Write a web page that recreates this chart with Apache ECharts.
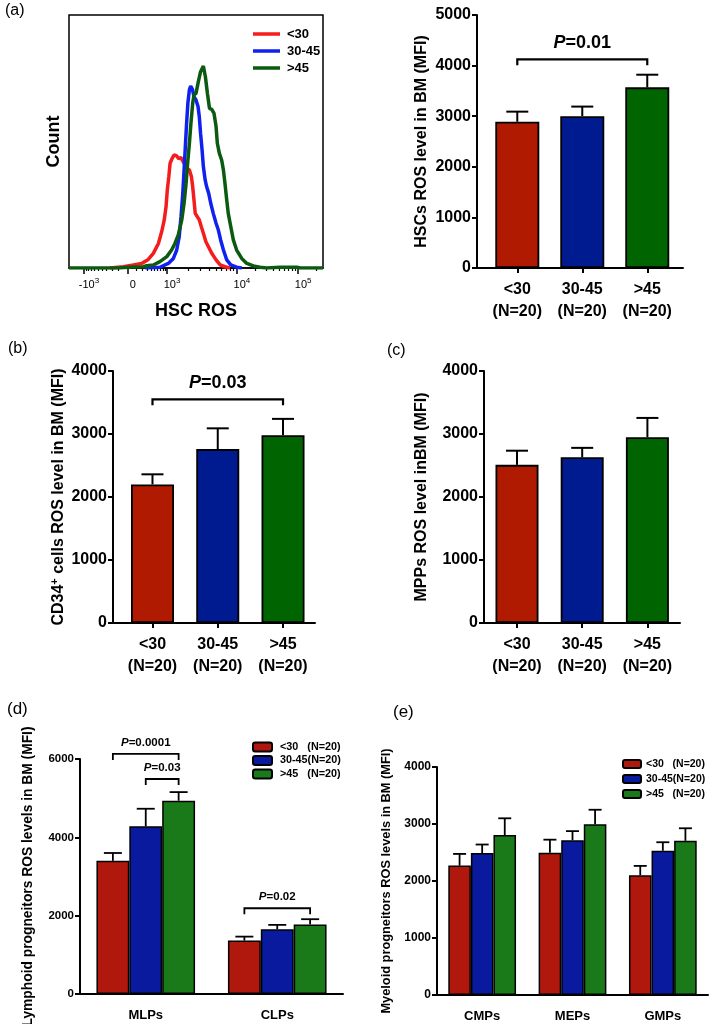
<!DOCTYPE html>
<html><head><meta charset="utf-8">
<script src="https://cdn.jsdelivr.net/npm/echarts@6/dist/echarts.min.js"></script>
<style>html,body{margin:0;padding:0;background:#fff}#c{width:709px;height:1024px}</style>
</head><body><div id="c"></div><script>
// ---------------- DATA ----------------
const ageGroups = ['<30', '30-45', '>45'];
const nLabel = '(N=20)';
const legendNames = ['<30   (N=20)', '30-45(N=20)', '>45   (N=20)'];

// (a) histogram: [display channel (0-1000 across axis), count %]
const histRed = [[161,0],[214,0.5],[253,1.2],[286,1.8],[312,3.4],[332,5.8],[352,9.7],[365,14.4],[375,19.0],[382,24.2],[387,30.8],[393,36.1],[398,41.4],[406,43.3],[414,44.7],[424,44.3],[432,43.2],[440,43.7],[450,42.0],[463,39.4],[474,38.7],[482,36.1],[487,32.1],[492,26.9],[497,21.6],[505,20.3],[513,19.0],[521,16.3],[529,13.7],[539,10.4],[549,8.4],[562,5.8],[579,3.2],[595,1.2],[614,0.5],[634,0]];
const histBlue = [[300,0],[358,0.3],[391,1.8],[411,3.8],[424,7.1],[434,12.4],[441,20.3],[448,29.5],[453,38.7],[458,48.0],[463,57.2],[468,65.1],[474,70.4],[479,71.9],[486,70.6],[492,67.7],[500,66.4],[508,63.8],[513,59.8],[518,53.2],[524,46.6],[529,40.1],[536,34.8],[542,32.1],[550,29.5],[558,25.6],[568,21.6],[579,17.7],[588,15.0],[597,11.1],[608,7.1],[621,3.2],[637,1.2],[660,0.3],[680,0]];
const histGreen = [[0,0],[194,0],[253,0.4],[293,0.5],[306,0.9],[332,1.2],[358,2.5],[385,4.5],[404,7.1],[417,9.7],[430,13.0],[444,19.0],[453,25.6],[461,33.5],[467,41.4],[474,49.3],[480,57.2],[487,65.1],[492,68.4],[500,69.0],[509,73.6],[518,77.6],[529,79.8],[537,75.6],[545,69.0],[553,63.1],[562,62.7],[571,61.1],[579,55.9],[584,49.3],[592,45.3],[601,42.7],[608,38.7],[614,33.5],[621,26.9],[627,21.6],[637,16.3],[647,11.1],[660,7.1],[680,3.8],[700,1.8],[726,0.8],[752,0.3],[778,0],[831,0.3],[897,0.3],[910,0],[1000,0]];
const histMajorValues = [-1000, 0, 1000, 10000, 100000];
const histMajorLabels = [['-10','3'], ['0',''], ['10','3'], ['10','4'], ['10','5']];
const histMinorValues = [-900,-800,-700,-600,-500,-400,-300,-200,-100,100,200,300,400,500,600,700,800,900,
  2000,3000,4000,5000,6000,7000,8000,9000,20000,30000,40000,50000,60000,70000,80000,90000,200000];

// (a) HSCs
const hscMean = [2890, 3000, 3570];
const hscSem  = [200, 190, 250];
const hscBrackets = [[0, 2, 4125, '0.01']];
// (b) CD34+
const cd34Mean = [2200, 2760, 2980];
const cd34Sem  = [160, 330, 260];
const cd34Brackets = [[0, 2, 3550, '0.03']];
// (c) MPPs
const mppMean = [2510, 2630, 2950];
const mppSem  = [225, 150, 305];
// (d) lymphoid progenitors  (rows = age groups)
const lymphCats = ['MLPs', 'CLPs'];
const lymphMean = [[3400, 1365], [4280, 1655], [4935, 1775]];
const lymphSem  = [[200, 100], [450, 110], [220, 135]];
const lymphBrackets = [[0, 0, 2, 6130, '0.0001'], [0, 1, 2, 5490, '0.03'], [1, 0, 2, 2190, '0.02']];
// (e) myeloid progenitors
const myeloCats = ['CMPs', 'MEPs', 'GMPs'];
const myeloMean = [[2270, 2495, 2100], [2490, 2715, 2530], [2805, 2995, 2705]];
const myeloSem  = [[205, 230, 165], [150, 160, 150], [295, 255, 220]];

// ---------------- STYLE ----------------
const FF = "'Liberation Sans', Arial, Helvetica, sans-serif";
const FFN = "'Liberation Sans Narrow', 'Liberation Sans', Arial, sans-serif";
const colA = ['#b01a00', '#001a90', '#006400'];
const colD = ['#b0180e', '#0a1a9e', '#1a7a1a'];
const histCol = ['#f41c1c', '#1020f0', '#0b5a10'];

// biexponential-like display transform for the histogram axis
function toCh(v) {
  if (v >= 1000) {
    const d = Math.log10(v);
    if (d <= 4) return 386 + (d - 3) * 275;
    return 661 + (d - 4) * 241;
  }
  if (v >= 0) return 232 + 154 * Math.log10(1 + v / 250) / Math.log10(5);
  return 232 - 173 * Math.log10(1 - v / 250) / Math.log10(5);
}
const majorCh = histMajorValues.map(toCh);
const minorCh = histMinorValues.map(toCh).filter(c => c >= 0 && c <= 1000);

const black = '#000';
function yAxisBold(grid, max, interval, fs, name, gap, nameFs, rich) {
  return {
    type: 'value', gridIndex: grid, min: 0, max: max, interval: interval,
    axisLine: {show: true, onZero: false, lineStyle: {color: black, width: 2}},
    axisTick: {show: true, length: 5, lineStyle: {color: black, width: 2}},
    axisLabel: {color: black, fontFamily: FF, fontWeight: 'bold', fontSize: fs, margin: 6, formatter: v => String(v)},
    splitLine: {show: false},
    name: name, nameLocation: 'middle', nameGap: gap,
    nameTextStyle: Object.assign({color: black, fontFamily: FF, fontWeight: 'bold', fontSize: nameFs}, rich ? {rich: rich} : {})
  };
}
function xAxisSingle(grid, min, max) {
  return {
    type: 'value', gridIndex: grid, min: min, max: max,
    axisLine: {show: true, onZero: false, lineStyle: {color: black, width: 2}},
    axisTick: {show: true, length: 5, customValues: [0, 1, 2], lineStyle: {color: black, width: 2}},
    axisLabel: {customValues: [0, 1, 2], color: black, fontFamily: FF, fontWeight: 'bold', fontSize: 16, lineHeight: 22, margin: 11,
      formatter: v => ageGroups[Math.round(v)] + '\n' + nLabel},
    splitLine: {show: false}
  };
}
function xAxisCat(grid, cats) {
  return {
    type: 'category', gridIndex: grid, data: cats,
    axisLine: {show: true, onZero: false, lineStyle: {color: black, width: 2}},
    axisTick: {show: false},
    axisLabel: {color: black, fontFamily: FF, fontWeight: 'bold', fontSize: 13, margin: 15}
  };
}

const pRich = fs => ({
  i: {fontFamily: FF, fontWeight: 'bold', fontStyle: 'italic', fontSize: fs, fill: black},
  n: {fontFamily: FF, fontWeight: 'bold', fontSize: fs, fill: black}
});

// error bars for single-series panels: [x, mean, sem]
function errSingle(cap) {
  return function (params, api) {
    const x = api.value(0), m = api.value(1), e = api.value(2);
    const p0 = api.coord([x, m]), p1 = api.coord([x, m + e]);
    return {type: 'group', children: [
      {type: 'line', shape: {x1: p0[0], y1: p0[1], x2: p1[0], y2: p1[1]}, style: {stroke: black, lineWidth: 2}},
      {type: 'line', shape: {x1: p1[0] - cap, y1: p1[1], x2: p1[0] + cap, y2: p1[1]}, style: {stroke: black, lineWidth: 2}}
    ]};
  };
}
// error bars for grouped panels: [cat, group, mean, sem]
function errGroup(cap, frac) {
  return function (params, api) {
    const c = api.value(0), g = api.value(1), m = api.value(2), e = api.value(3);
    const band = api.coord([1, 0])[0] - api.coord([0, 0])[0];
    const dx = (g - 1) * band * frac;
    const p0 = api.coord([c, m]), p1 = api.coord([c, m + e]);
    const x = p0[0] + dx;
    return {type: 'group', children: [
      {type: 'line', shape: {x1: x, y1: p0[1], x2: x, y2: p1[1]}, style: {stroke: black, lineWidth: 1.8}},
      {type: 'line', shape: {x1: x - cap, y1: p1[1], x2: x + cap, y2: p1[1]}, style: {stroke: black, lineWidth: 1.8}}
    ]};
  };
}
function bracketShape(xa, xb, y, drop, lw, text, fs, gap) {
  return {type: 'group', children: [
    {type: 'polyline', shape: {points: [[xa, y + drop], [xa, y], [xb, y], [xb, y + drop]]}, style: {stroke: black, lineWidth: lw, fill: null}},
    {type: 'text', x: (xa + xb) / 2, y: y - gap, style: {text: '{i|P}{n|=' + text + '}', rich: pRich(fs), align: 'center', verticalAlign: 'middle'}}
  ]};
}
function brSingle(params, api) {
  const a = api.coord([api.value(0), api.value(2)]), b = api.coord([api.value(1), api.value(2)]);
  return bracketShape(a[0], b[0], a[1], 6, 2.2, api.value(3), 18, 16);
}
function brGroup(params, api) {
  const c = api.value(0), y = api.value(3);
  const band = api.coord([1, 0])[0] - api.coord([0, 0])[0];
  const p = api.coord([c, y]);
  const xa = p[0] + (api.value(1) - 1) * band * 0.25, xb = p[0] + (api.value(2) - 1) * band * 0.25;
  return bracketShape(xa, xb, p[1], 6, 1.8, api.value(4), 11.5, 11);
}

function singleBars(xi, yi, means, width) {
  return {type: 'bar', xAxisIndex: xi, yAxisIndex: yi, barWidth: width, z: 2,
    itemStyle: {borderColor: black, borderWidth: 1.8},
    data: means.map((v, i) => ({value: [i, v], itemStyle: {color: colA[i]}}))};
}
function singleErr(xi, yi, means, sems) {
  return {type: 'custom', xAxisIndex: xi, yAxisIndex: yi, z: 3, renderItem: errSingle(11),
    encode: {x: 0, y: 1}, data: means.map((v, i) => [i, v, sems[i]])};
}

const series = [];
// histogram
[histRed, histBlue, histGreen].forEach((d, i) => {
  series.push({type: 'line', name: ageGroups[i], xAxisIndex: 0, yAxisIndex: 0, data: d, symbol: 'none',
    lineStyle: {color: histCol[i], width: 3.5}, itemStyle: {color: histCol[i]}, z: 2 + i});
});
// (a)
series.push(singleBars(2, 1, hscMean, 44), singleErr(2, 1, hscMean, hscSem));
series.push({type: 'custom', xAxisIndex: 2, yAxisIndex: 1, z: 4, renderItem: brSingle, encode: {x: 0, y: 2}, data: hscBrackets});
// (b)
series.push(singleBars(3, 2, cd34Mean, 43), singleErr(3, 2, cd34Mean, cd34Sem));
series.push({type: 'custom', xAxisIndex: 3, yAxisIndex: 2, z: 4, renderItem: brSingle, encode: {x: 0, y: 2}, data: cd34Brackets});
// (c)
series.push(singleBars(4, 3, mppMean, 43), singleErr(4, 3, mppMean, mppSem));
// (d)
lymphMean.forEach((row, g) => {
  series.push({type: 'bar', name: legendNames[g], xAxisIndex: 5, yAxisIndex: 4, barWidth: '25%', barGap: '0%',
    itemStyle: {color: colD[g], borderColor: black, borderWidth: 1.5}, data: row});
});
series.push({type: 'custom', xAxisIndex: 5, yAxisIndex: 4, z: 3, renderItem: errGroup(9, 0.25), encode: {x: 0, y: 2},
  data: lymphMean.flatMap((row, g) => row.map((v, c) => [c, g, v, lymphSem[g][c]]))});
series.push({type: 'custom', xAxisIndex: 5, yAxisIndex: 4, z: 4, renderItem: brGroup, clip: false, encode: {x: 0, y: 3}, data: lymphBrackets});
// (e)
myeloMean.forEach((row, g) => {
  series.push({type: 'bar', name: legendNames[g], xAxisIndex: 6, yAxisIndex: 5, barWidth: '25%', barGap: '0%',
    itemStyle: {color: colD[g], borderColor: black, borderWidth: 1.5}, data: row});
});
series.push({type: 'custom', xAxisIndex: 6, yAxisIndex: 5, z: 3, renderItem: errGroup(6.5, 0.25), encode: {x: 0, y: 2},
  data: myeloMean.flatMap((row, g) => row.map((v, c) => [c, g, v, myeloSem[g][c]]))});

const G = {outerBoundsMode: 'none', containLabel: false};
const option = {
  animation: false,
  backgroundColor: '#fff',
  textStyle: {fontFamily: FF},
  grid: [
    Object.assign({left: 69, top: 15, width: 254, height: 253, show: true, borderColor: black, borderWidth: 1.5}, G),
    Object.assign({left: 477, top: 15, width: 206, height: 253}, G),
    Object.assign({left: 113, top: 371, width: 202, height: 252}, G),
    Object.assign({left: 484, top: 371, width: 196, height: 252}, G),
    Object.assign({left: 80, top: 759, width: 263, height: 235}, G),
    Object.assign({left: 437, top: 767, width: 271, height: 228}, G)
  ],
  xAxis: [
    {type: 'value', gridIndex: 0, min: 0, max: 1000, position: 'bottom',
      axisLine: {show: true, onZero: false, lineStyle: {color: black, width: 1.5}},
      axisTick: {show: true, length: 6, customValues: majorCh, lineStyle: {color: black, width: 1.5}},
      axisLabel: {customValues: majorCh, color: black, margin: 9, padding: [0, 0, 0, 10],
        formatter: v => { const k = majorCh.findIndex(c => Math.abs(c - v) < 0.01); const L = histMajorLabels[k];
          return L[1] ? '{b|' + L[0] + '}{s|' + L[1] + '}' : '{b|' + L[0] + '}'; },
        rich: {b: {fontFamily: FF, fontSize: 11, lineHeight: 16, color: black}, s: {fontFamily: FF, fontSize: 8, lineHeight: 8, verticalAlign: 'top', color: black}}},
      splitLine: {show: false},
      name: 'HSC ROS', nameLocation: 'middle', nameGap: 34,
      nameTextStyle: {color: black, fontFamily: FF, fontWeight: 'bold', fontSize: 18}},
    {type: 'value', gridIndex: 0, min: 0, max: 1000, position: 'bottom', offset: 0,
      axisLine: {show: false, onZero: false},
      axisTick: {show: true, length: 3, customValues: minorCh, lineStyle: {color: black, width: 1.2}},
      axisLabel: {show: false}, splitLine: {show: false}},
    xAxisSingle(1, -0.62, 2.55),
    xAxisSingle(2, -0.605, 2.49),
    xAxisSingle(3, -0.506, 2.50),
    xAxisCat(4, lymphCats),
    xAxisCat(5, myeloCats)
  ],
  yAxis: [
    {type: 'value', gridIndex: 0, min: 0, max: 100, axisLine: {show: false, onZero: false}, axisTick: {show: false},
      axisLabel: {show: false}, splitLine: {show: false},
      name: 'Count', nameLocation: 'middle', nameGap: 6,
      nameTextStyle: {color: black, fontFamily: FF, fontWeight: 'bold', fontSize: 18}},
    yAxisBold(1, 5000, 1000, 16, 'HSCs ROS level in BM (MFI)', 47, 16),
    yAxisBold(2, 4000, 1000, 16, '{n|CD34}{s|+}{n| cells ROS level in BM (MFI)}', 44, 16,
      {n: {fontFamily: FF, fontWeight: 'bold', fontSize: 16, lineHeight: 20, color: black},
       s: {fontFamily: FF, fontWeight: 'bold', fontSize: 11, lineHeight: 10, verticalAlign: 'top', color: black}}),
    yAxisBold(3, 4000, 1000, 16, 'MPPs ROS level inBM (MFI)', 54, 16),
    yAxisBold(4, 6000, 2000, 11.5, 'Lymphoid progneitors ROS levels in BM (MFI)', 45, 13.8),
    yAxisBold(5, 4000, 1000, 12, 'Myeloid progneitors ROS levels in BM (MFI)', 44, 12.8)
  ],
  legend: [
    {data: ageGroups, orient: 'vertical', left: 253, top: 27, padding: 0, icon: 'rect', itemWidth: 27, itemHeight: 3.5, itemGap: 3,
      textStyle: {fontFamily: FF, fontWeight: 'bold', fontSize: 13, lineHeight: 14, color: black, padding: [0, 0, 0, 2]}},
    {data: legendNames, orient: 'vertical', left: 252, top: 741, padding: 0, itemWidth: 19, itemHeight: 9, itemGap: 1.5,
      textStyle: {fontFamily: FFN, fontWeight: 'bold', fontSize: 10.8, lineHeight: 12, color: black, padding: [0, 0, 0, 3]}},
    {data: legendNames, orient: 'vertical', left: 622, top: 758, padding: 0, itemWidth: 18, itemHeight: 8, itemGap: 3,
      textStyle: {fontFamily: FFN, fontWeight: 'bold', fontSize: 10.5, lineHeight: 12, color: black}}
  ],
  graphic: [
    {type: 'text', left: 5, top: 3, style: {text: '(a)', font: '16px ' + FF, fill: black}},
    {type: 'text', left: 8, top: 341, style: {text: '(b)', font: '16px ' + FF, fill: black}},
    {type: 'text', left: 387, top: 343, style: {text: '(c)', font: '16px ' + FF, fill: black}},
    {type: 'text', left: 7, top: 701, style: {text: '(d)', font: '17px ' + FF, fill: black}},
    {type: 'text', left: 393, top: 704, style: {text: '(e)', font: '17px ' + FF, fill: black}}
  ],
  series: series
};
const chart = echarts.init(document.getElementById('c'), null, {renderer: 'canvas'});
chart.setOption(option);
</script></body></html>
